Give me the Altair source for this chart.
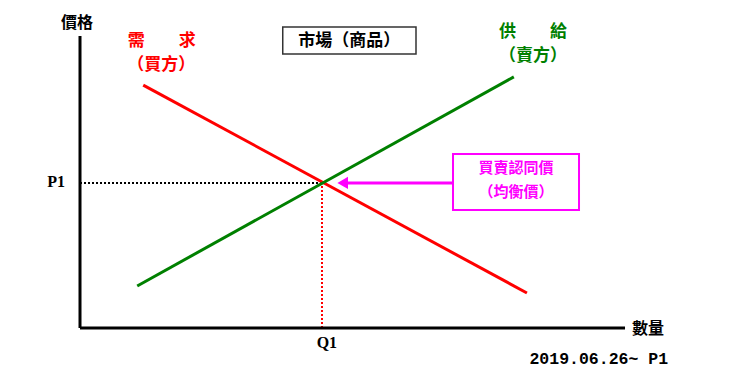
import altair as alt
import pandas as pd

# ---- values (data units: quantity 0..100, price 0..100) ----
q1 = 44.4
p1 = 49.7
demand_q = [11.6, 82.0]
demand_p = [83.2, 12.0]
supply_q = [10.5, 79.6]
supply_p = [14.4, 86.0]
q_axis_max = 100
p_axis_max = 100

CJK = "Noto Sans CJK TC"

xs = alt.Scale(domain=[-14.68, 123.3], nice=False, zero=False)
ys = alt.Scale(domain=[-18.15, 112.33], nice=False, zero=False)


def X(f="x"):
    return alt.X(f"{f}:Q", scale=xs, axis=None)


def Y(f="y"):
    return alt.Y(f"{f}:Q", scale=ys, axis=None)


# axes
axes_df = pd.DataFrame({"x": [0, 0], "x2": [0, q_axis_max], "y": [0, 0], "y2": [p_axis_max, 0]})
axes = alt.Chart(axes_df).mark_rule(color="black", strokeWidth=3).encode(
    x=X(), x2="x2:Q", y=Y(), y2="y2:Q")

# demand / supply
dem = alt.Chart(pd.DataFrame({"x": demand_q, "y": demand_p})).mark_line(
    color="#FF0000", strokeWidth=3).encode(x=X(), y=Y())
sup = alt.Chart(pd.DataFrame({"x": supply_q, "y": supply_p})).mark_line(
    color="#008000", strokeWidth=3).encode(x=X(), y=Y())

# dotted guides
hdot = alt.Chart(pd.DataFrame({"x": [0], "x2": [q1], "y": [p1]})).mark_rule(
    color="black", strokeWidth=2, strokeDash=[2, 2]).encode(x=X(), x2="x2:Q", y=Y())
vdot = alt.Chart(pd.DataFrame({"x": [q1], "y": [0], "y2": [p1]})).mark_rule(
    color="#FF0000", strokeWidth=2, strokeDash=[2, 2]).encode(x=X(), y=Y(), y2="y2:Q")

# boxes
box_market = alt.Chart(pd.DataFrame({"x": [37.2], "x2": [61.65], "y": [93.8], "y2": [103.1]})).mark_rect(
    fill="white", stroke="#333333", strokeWidth=1.5).encode(x=X(), x2="x2:Q", y=Y(), y2="y2:Q")
box_eq = alt.Chart(pd.DataFrame({"x": [68.44], "x2": [91.56], "y": [40.4], "y2": [59.6]})).mark_rect(
    fill="white", stroke="#FF00FF", strokeWidth=2).encode(x=X(), x2="x2:Q", y=Y(), y2="y2:Q")

# arrow
arrow_line = alt.Chart(pd.DataFrame({"x": [68.44], "x2": [48.8], "y": [p1]})).mark_rule(
    color="#FF00FF", strokeWidth=3).encode(x=X(), x2="x2:Q", y=Y())
arrow_head = alt.Chart(pd.DataFrame({"x": [48.2], "y": [p1]})).mark_point(
    shape="triangle-left", filled=True, color="#FF00FF", opacity=1, size=150).encode(x=X(), y=Y())


def text_layer(texts, xs_, ys_, **kw):
    df = pd.DataFrame({"t": texts, "x": xs_, "y": ys_})
    base = dict(baseline="middle", align="center")
    base.update(kw)
    return alt.Chart(df).mark_text(**base).encode(x=X(), y=Y(), text="t:N")


t_price = text_layer(["價格"], [-0.55], [104.5], font=CJK, fontWeight="bold", fontSize=16, color="black")
t_qty = text_layer(["數量"], [101.3], [-0.3], font=CJK, fontWeight="bold", fontSize=16, color="black", align="left")
t_dem = text_layer(["需　　求", "（買方）"], [15.0, 14.9], [98.3, 90.1],
                   font=CJK, fontWeight="bold", fontSize=17, color="#FF0000")
t_sup = text_layer(["供　　給", "（賣方）"], [83.1, 83.1], [101.4, 93.2],
                   font=CJK, fontWeight="bold", fontSize=17, color="#008000")
t_market = text_layer(["市場（商品）"], [49.4], [98.3], font=CJK, fontWeight="bold", fontSize=17, color="black")
t_eq = text_layer(["買賣認同價", "（均衡價）"], [80.0, 80.0], [54.8, 46.7],
                  font=CJK, fontWeight="bold", fontSize=15, color="#FF00FF")
t_p1 = text_layer(["P1"], [-2.75], [50.0], font="Liberation Serif", fontWeight="bold", fontSize=16,
                  color="black", align="right")
t_q1 = text_layer(["Q1"], [q1 + 0.9], [-5.1], font="Liberation Serif", fontWeight="bold", fontSize=16,
                  color="black")
t_date = text_layer(["2019.06.26~ P1"], [107.9], [-10.6], font="Liberation Mono", fontWeight="bold",
                    fontSize=16.5, color="black", align="right")

chart = alt.layer(
    hdot, vdot, dem, sup, axes, box_market, box_eq, arrow_line, arrow_head,
    t_price, t_qty, t_dem, t_sup, t_market, t_eq, t_p1, t_q1, t_date
).properties(
    width=752, height=381, padding=0, autosize="none", background="white"
).configure_view(stroke=None)

chart.save("out.html", embed_options={"renderer": "svg", "actions": False})
